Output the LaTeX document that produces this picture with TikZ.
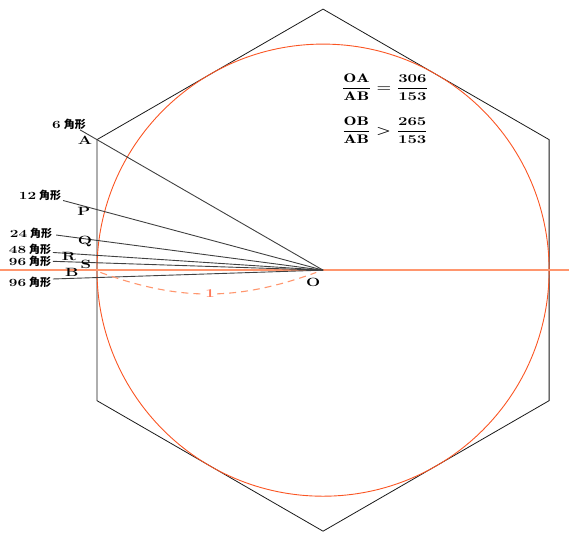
\documentclass[tikz,border=0pt]{standalone}
\usepackage{amsmath}
\usepackage{graphicx}
\usepackage{fontspec}
\newfontfamily\jp{Noto Sans CJK JP}
\usetikzlibrary{calc}
\definecolor{circred}{RGB}{250,85,35}
\definecolor{axisor}{RGB}{255,150,110}
\tikzset{
  hexline/.style = {black!90, line width=0.8pt},
  ray/.style     = {black!75, line width=0.9pt},
  axisline/.style= {axisor, line width=1.5pt},
  unitarc/.style = {axisor, line width=1.1pt, dash pattern=on 7pt off 5pt},
  ptlab/.style   = {font=\fontsize{12}{14}\selectfont\bfseries, inner sep=0pt},
  ngon/.style    = {font=\fontsize{11}{13}\selectfont\bfseries, inner sep=0pt},
  ratio/.style   = {font=\fontsize{12.5}{15}\selectfont\boldmath, inner sep=0pt},
}
\newcommand{\wide}[1]{\scalebox{1.4}[1]{#1}}
\newcommand{\kaku}[1]{\wide{#1}\hspace{3pt}{\jp 角形}}
\newcommand{\fr}[2]{\displaystyle\frac{\mathrm{#1}}{\mathrm{#2}}}
\begin{document}
\begin{tikzpicture}[x=226bp,y=226bp]
\useasboundingbox (-1.429,-1.164) rectangle (1.088,1.195);
\coordinate (O) at (0,0);
% hexagon and inscribed circle
\draw[hexline] (90:1.1547) -- (150:1.1547) -- (210:1.1547) -- (270:1.1547)
  -- (330:1.1547) -- (30:1.1547) -- cycle;
\draw[circred, line width=0.9pt] (O) circle (1);
\coordinate (axl) at (-1.429,0);
\coordinate (axr) at (1.088,0);
\draw[axisline] (axl) -- (axr);
% rays to the side points
\coordinate (A) at (150:1.1547);
\coordinate (B) at (-1,0);
\coordinate (e6)   at (-1.075,{1.075*tan(30)});
\coordinate (e12)  at (-1.150,{1.150*tan(15)});
\coordinate (e24)  at (-1.181,{1.181*tan(7.5)});
\coordinate (e48)  at (-1.195,{1.195*tan(3.75)});
\coordinate (e96)  at (-1.195,{1.195*tan(1.875)});
\coordinate (e96b) at (-1.195,{-1.195*tan(1.875)});
\foreach \e in {e6,e12,e24,e48,e96,e96b}
  \draw[ray] (O) -- (\e);
% labels of the polygons
\node[ngon] (l6)   at (-1.124, 0.646) {\kaku{6}};
\node[ngon] (l12)  at (-1.252, 0.332) {\kaku{12}};
\node[ngon] (l24)  at (-1.292, 0.164) {\kaku{24}};
\node[ngon] (l48)  at (-1.296, 0.093) {\kaku{48}};
\node[ngon] (l96)  at (-1.296, 0.040) {\kaku{96}};
\node[ngon] (l96b) at (-1.296,-0.053) {\kaku{96}};
% point names
\node[ptlab] (nA) at (-1.053, 0.575) {\wide{A}};
\node[ptlab] (nP) at (-1.058, 0.261) {\wide{P}};
\node[ptlab] (nQ) at (-1.053, 0.128) {\wide{Q}};
\node[ptlab] (nR) at (-1.124, 0.062) {\wide{R}};
\node[ptlab] (nS) at (-1.049, 0.027) {\wide{S}};
\node[ptlab] (nB) at (-1.111,-0.009) {\wide{B}};
\node[ptlab] (nO) at (-0.044,-0.053) {\wide{O}};
% unit radius
\draw[unitarc] ($(B)+(0.015,-0.01)$) to[bend right=20] ($(O)+(-0.03,-0.01)$);
\node[ptlab, text=axisor!80!red, fill=white, inner sep=1.5pt] (one) at (-0.5,-0.102) {\wide{1}};
% ratios
\node[ratio] (r1) at (0.274,0.810) {\wide{$\fr{OA}{AB}=\frac{306}{153}$}};
\node[ratio] (r2) at (0.274,0.619) {\wide{$\fr{OB}{AB}>\frac{265}{153}$}};
\end{tikzpicture}
\end{document}
